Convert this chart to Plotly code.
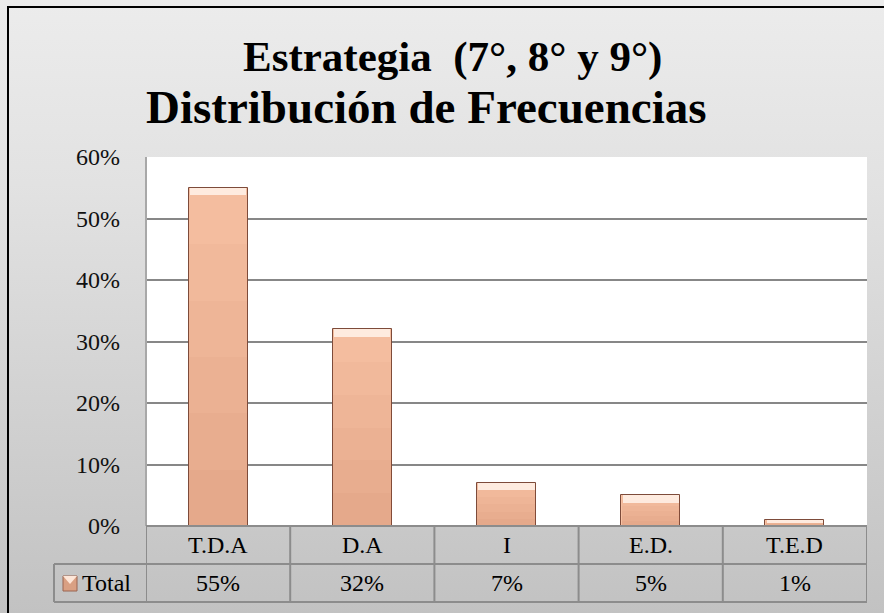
import base64
import plotly.graph_objects as go

# Chart data
categories = ["T.D.A", "D.A", "I", "E.D.", "T.E.D"]
values = [0.55, 0.32, 0.07, 0.05, 0.01]
series_name = "Total"
y_ticks = [0, 0.1, 0.2, 0.3, 0.4, 0.5, 0.6]

W, H = 884, 613
ML, MR, MT, MB = 146, 17, 157, 87
PW, PH = W - ML - MR, H - MT - MB

FONT = "Liberation Serif, Times New Roman, serif"
GRID = "#878787"
BAR = "#f7c1a3"
BAR_EDGE = "#7d4b3a"


def px_x(x):
    return (x - ML) / PW


def px_y(y):
    return (H - MB - y) / PH


# vertical grey gradient for the chart background
svg = f"""<svg xmlns='http://www.w3.org/2000/svg' width='{W}' height='{H}'>
<defs><linearGradient id='g' x1='0' y1='0' x2='0' y2='1'>
<stop offset='0' stop-color='#ececec'/><stop offset='0.3' stop-color='#e2e2e2'/>
<stop offset='1' stop-color='#c2c2c2'/></linearGradient></defs>
<rect width='{W}' height='{H}' fill='url(#g)'/></svg>"""
bg_src = "data:image/svg+xml;base64," + base64.b64encode(svg.encode()).decode()

fig = go.Figure()
fig.add_trace(go.Bar(
    x=categories, y=values, width=0.41, name=series_name,
    marker=dict(color=BAR, line=dict(color=BAR_EDGE, width=1)),
    hoverinfo="x+y", showlegend=False,
))
# shading that darkens toward the base of each bar
n_bands = 6
for k in range(1, n_bands + 1):
    frac = k / n_bands
    fig.add_trace(go.Bar(
        x=categories, y=[v * frac for v in values], width=0.405,
        marker=dict(color="rgba(170,95,60,0.035)", line=dict(width=0)),
        hoverinfo="skip", showlegend=False,
    ))
# soft highlight along the top of each bar
hl = [min(0.012, v * 0.45) for v in values]
fig.add_trace(go.Bar(
    x=categories, y=hl, base=[v - h for v, h in zip(values, hl)], width=0.39,
    marker=dict(color="rgba(255,240,230,0.9)", line=dict(width=0)),
    hoverinfo="skip", showlegend=False,
))

shapes = []
# white plotting area above the grey background
shapes.append(dict(type="rect", xref="paper", yref="paper", x0=0, x1=1, y0=0, y1=1,
                   fillcolor="#ffffff", line=dict(width=0), layer="below"))
# outer frame (top and left edges visible)
shapes.append(dict(type="rect", xref="paper", yref="paper",
                   x0=px_x(8), x1=px_x(W + 20), y0=px_y(H + 20), y1=px_y(7),
                   line=dict(color="#000000", width=2), fillcolor="rgba(0,0,0,0)", layer="above"))
# plot-area left border
shapes.append(dict(type="line", xref="paper", yref="paper", x0=0, x1=0, y0=0, y1=1,
                   line=dict(color="#a8a8a8", width=2)))

# data table under the axis
row1_bottom = px_y(564)
row2_bottom = px_y(602)
tl = dict(color="#8c8c8c", width=2)
shapes.append(dict(type="line", xref="paper", yref="paper", x0=0, x1=1, y0=0, y1=0, line=tl))
shapes.append(dict(type="line", xref="paper", yref="paper", x0=px_x(54), x1=1,
                   y0=row1_bottom, y1=row1_bottom, line=tl))
shapes.append(dict(type="line", xref="paper", yref="paper", x0=px_x(54), x1=1,
                   y0=row2_bottom, y1=row2_bottom, line=tl))
shapes.append(dict(type="line", xref="paper", yref="paper", x0=px_x(54), x1=px_x(54),
                   y0=row2_bottom, y1=row1_bottom, line=tl))
for i in range(len(categories) + 1):
    shapes.append(dict(type="line", xref="x", yref="paper", x0=i - 0.5, x1=i - 0.5,
                       y0=row2_bottom, y1=0, line=tl))

# legend key square with bevel highlight
kx0, kx1, ky0, ky1 = px_x(63), px_x(77), px_y(591), px_y(576)
shapes.append(dict(type="rect", xref="paper", yref="paper", x0=kx0, x1=kx1, y0=ky0, y1=ky1,
                   fillcolor="#d9a083", line=dict(color="#9a6550", width=1)))
shapes.append(dict(type="path", xref="paper", yref="paper",
                   path=f"M {kx0} {ky1} L {kx1} {ky1} L {(kx0 + kx1) / 2} {px_y(584)} Z",
                   fillcolor="#fde6d8", line=dict(width=0)))

annotations = [
    dict(text="<b>Estrategia  (7°, 8° y 9°)</b>", xref="paper", yref="paper",
         x=px_x(452), y=px_y(57), xanchor="center", yanchor="middle", showarrow=False,
         font=dict(family=FONT, size=43, color="#000000")),
    dict(text="<b>Distribución de Frecuencias</b>", xref="paper", yref="paper",
         x=px_x(426), y=px_y(107), xanchor="center", yanchor="middle", showarrow=False,
         font=dict(family=FONT, size=47, color="#000000")),
    dict(text=series_name, xref="paper", yref="paper", x=px_x(80), y=px_y(583),
         xanchor="left", yanchor="middle", showarrow=False,
         font=dict(family=FONT, size=24, color="#000000")),
]
for c, v in zip(categories, values):
    annotations.append(dict(text=c, xref="x", yref="paper", x=c, y=px_y(545),
                            xanchor="center", yanchor="middle", showarrow=False,
                            font=dict(family=FONT, size=24, color="#000000")))
    annotations.append(dict(text=f"{round(v * 100)}%", xref="x", yref="paper", x=c, y=px_y(583),
                            xanchor="center", yanchor="middle", showarrow=False,
                            font=dict(family=FONT, size=24, color="#000000")))

fig.update_layout(
    width=W, height=H,
    margin=dict(l=ML, r=MR, t=MT, b=MB, pad=0),
    paper_bgcolor="#d8d8d8", plot_bgcolor="#ffffff",
    barmode="overlay", bargap=0,
    shapes=shapes, annotations=annotations,
    images=[dict(source=bg_src, xref="paper", yref="paper",
                 x=px_x(0), y=px_y(0), sizex=W / PW, sizey=H / PH,
                 xanchor="left", yanchor="top", sizing="stretch", layer="below")],
    xaxis=dict(type="category", range=[-0.5, len(categories) - 0.5],
               showticklabels=False, showgrid=False, zeroline=False, fixedrange=True),
    yaxis=dict(range=[0, 0.6], tickvals=y_ticks, tickformat=".0%",
               showgrid=True, gridcolor=GRID, gridwidth=2, zeroline=False,
               ticks="", ticklabelstandoff=25,
               tickfont=dict(family=FONT, size=24, color="#111111")),
    font=dict(family=FONT),
)

fig.write_html("out.html")
